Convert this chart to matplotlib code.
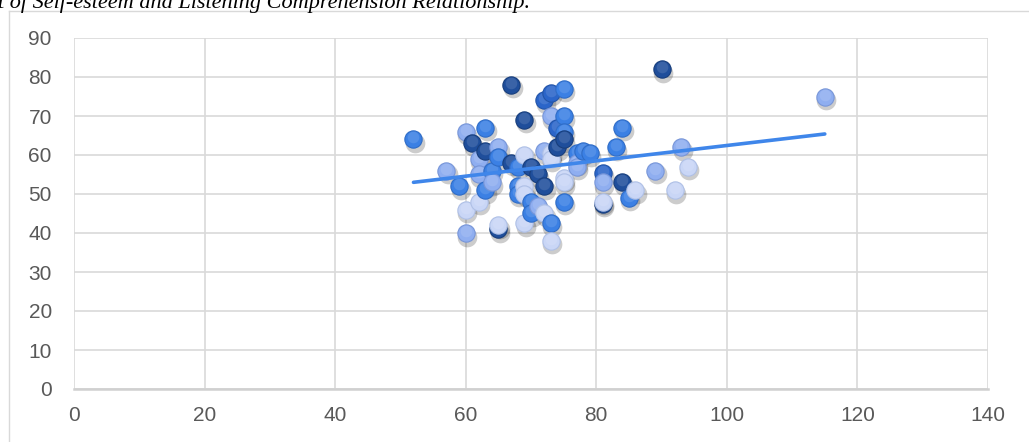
import matplotlib
matplotlib.use("Agg")
import matplotlib.pyplot as plt
import numpy as np
from matplotlib.transforms import offset_copy
from matplotlib.lines import Line2D

# ---- data ----
self_esteem = [52, 57, 59, 60, 60, 60, 61, 62, 62, 62, 63, 63, 63, 64, 64, 65, 65, 65, 65,
               67, 67, 68, 68, 68, 69, 69, 69, 69, 69, 70, 70, 70, 71, 71, 72, 73, 72, 72,
               72, 73, 73, 73, 73, 73, 74, 74, 75, 75, 75, 75, 75, 75, 75, 77, 77, 77, 78,
               79, 81, 81, 81, 81, 83, 84, 84, 85, 86, 89, 90, 92, 93, 94, 115]
listening = [64, 56, 52, 66, 46, 40, 63, 59, 55, 48, 67, 61, 51, 56, 53, 62, 59.5, 41, 42,
             78, 58, 57, 52, 50, 69, 60, 52, 50, 42.5, 57, 48, 45, 55, 47, 74, 76, 61, 52,
             45, 70, 60.5, 59, 42.5, 38, 67, 62, 77, 70, 66, 64, 54, 53, 48, 60.5, 58, 57, 61,
             60.5, 55.5, 53, 47.5, 48, 62, 67, 53, 49, 51, 56, 82, 51, 62, 57, 75]
# shade index per point (0 dark ... 4 very light)
point_shade = [2, 3, 2, 3, 4, 3, 0, 3, 3, 4, 2, 0, 2, 2, 3, 3, 2, 0, 4,
               0, 0, 2, 2, 2, 0, 4, 4, 4, 4, 0, 2, 2, 0, 3, 1, 1, 3, 0,
               4, 3, 4, 4, 2, 4, 1, 0, 2, 2, 2, 0, 4, 4, 2, 2, 3, 3, 2,
               2, 1, 3, 0, 4, 2, 2, 0, 2, 4, 3, 0, 4, 3, 4, 3]

x_ticks = [0, 20, 40, 60, 80, 100, 120, 140]
y_ticks = [0, 10, 20, 30, 40, 50, 60, 70, 80, 90]
title_text = "t of Self-esteem and Listening Comprehension Relationship."

shade_colors = ["#1F4E9B", "#2B65C9", "#3B80E4", "#8FAEF0", "#C9D6F6"]
edge_colors = ["#183E7C", "#2254A8", "#2F6CC6", "#7896D8", "#AFC0E6"]

W, H = 1029, 442
fig = plt.figure(figsize=(W / 100, H / 100), dpi=100)
fig.patch.set_facecolor("white")

# outer chart frame
fig.add_artist(Line2D([9 / W, 1.0], [1 - 11 / H, 1 - 11 / H], transform=fig.transFigure,
                      color="#D9D9D9", lw=1.0))
fig.add_artist(Line2D([9 / W, 9 / W], [0, 1 - 11 / H], transform=fig.transFigure,
                      color="#D9D9D9", lw=1.0))

fig.text(-2 / W, 1 - 8 / H, title_text, ha="left", va="baseline",
         family="Liberation Serif", style="italic", fontsize=16, color="black")

ax = fig.add_axes([74 / W, 1 - 389 / H, (988 - 74) / W, (389 - 38) / H])
ax.set_xlim(0, 140)
ax.set_ylim(0, 90)
ax.set_xticks(x_ticks)
ax.set_yticks(y_ticks)
ax.grid(True, color="#D9D9D9", lw=1.2, zorder=0)
ax.set_axisbelow(True)
for s in ["top", "right", "left"]:
    ax.spines[s].set_visible(False)
ax.spines["bottom"].set_color("#D0D0D0")
ax.spines["bottom"].set_linewidth(1.8)
ax.tick_params(length=0, labelsize=15, labelcolor="#595959")
ax.tick_params(axis="y", pad=16)
ax.tick_params(axis="x", pad=12)
for lab in ax.get_xticklabels() + ax.get_yticklabels():
    lab.set_family("Liberation Sans")

xs = np.array(self_esteem, dtype=float)
ys = np.array(listening, dtype=float)
cols = [shade_colors[i] for i in point_shade]
ecols = [edge_colors[i] for i in point_shade]

size = 155
shadow_tr = offset_copy(ax.transData, fig=fig, x=1.5, y=-3.5, units="dots")
hi_tr = offset_copy(ax.transData, fig=fig, x=0, y=2.0, units="dots")
for xi, yi, c, e in zip(xs, ys, cols, ecols):
    ax.scatter([xi], [yi], s=size * 1.3, color="#000000", alpha=0.2, linewidths=0,
               transform=shadow_tr, zorder=2)
    ax.scatter([xi], [yi], s=size, color=c, edgecolors=e, linewidths=0.8, zorder=3)
    ax.scatter([xi], [yi], s=size * 0.45, color="white", alpha=0.12, linewidths=0,
               transform=hi_tr, zorder=3)

coef = np.polyfit(xs, ys, 1)
xl = np.array([xs.min(), xs.max()])
ax.plot(xl, np.polyval(coef, xl), color="#3F86EA", lw=2.6, solid_capstyle="round", zorder=5)

fig.savefig("out.png", dpi=100)
